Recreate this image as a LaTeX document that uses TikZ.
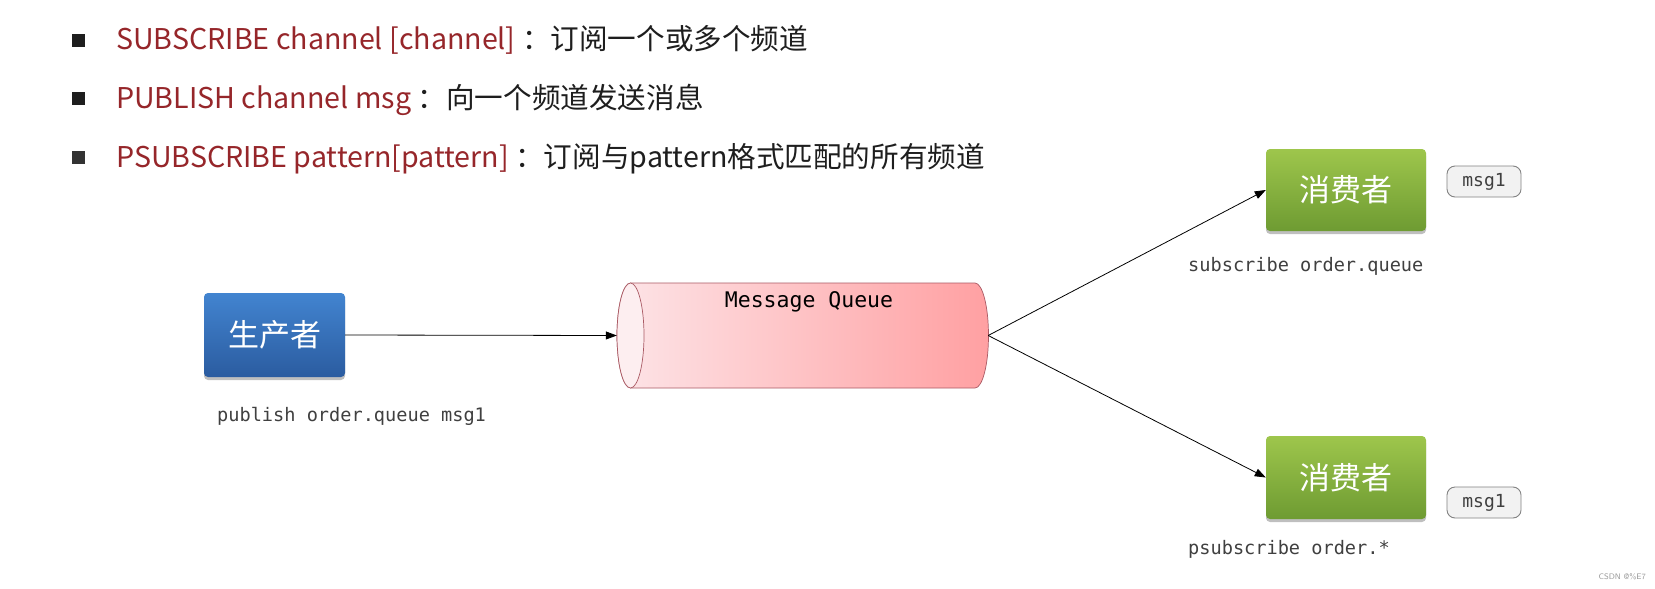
\documentclass[tikz,border=0pt]{standalone}
\usepackage{fontspec}
\newfontfamily\cjk{Noto Sans CJK SC}
\newfontfamily\mono{DejaVu Sans Mono}
\usetikzlibrary{shadows,arrows.meta}
\definecolor{cmdred}{RGB}{150,38,42}
\definecolor{txtdark}{RGB}{30,30,30}
\definecolor{bluetop}{RGB}{66,132,208}
\definecolor{bluebot}{RGB}{43,92,160}
\definecolor{greentop}{RGB}{158,198,76}
\definecolor{greenbot}{RGB}{110,155,50}
\definecolor{pinkL}{RGB}{253,228,231}
\definecolor{pinkR}{RGB}{255,160,162}
\definecolor{pinkface}{RGB}{253,238,240}
\definecolor{cylborder}{RGB}{170,90,100}
\definecolor{labelgrey}{RGB}{64,64,64}
\definecolor{tagfill}{RGB}{242,242,242}
\definecolor{tagdraw}{RGB}{130,130,130}
\tikzset{
  x=1pt, y=1pt,
  bulletbox/.style={fill=txtdark, minimum width=13pt, minimum height=13pt, inner sep=0pt},
  cmdtext/.style={text=cmdred, font=\cjk\fontsize{28.6}{34}\selectfont, inner sep=0pt, anchor=base west},
  desctext/.style={text=txtdark, font=\cjk\fontsize{28.6}{34}\selectfont, inner sep=0pt, anchor=base west, xshift=6pt},
  actorbox/.style={rounded corners=4pt, text=white, font=\cjk\fontsize{31}{31}\selectfont,
     drop shadow={shadow xshift=0pt, shadow yshift=-3pt, opacity=0.25, fill=black}},
  prodbox/.style={actorbox, top color=bluetop, bottom color=bluebot, minimum width=141pt, minimum height=84pt},
  consbox/.style={actorbox, top color=greentop, bottom color=greenbot, minimum width=160pt, minimum height=82pt},
  tagbox/.style={rounded corners=8pt, fill=tagfill, draw=tagdraw, line width=0.9pt,
     minimum width=74pt, minimum height=31pt, inner sep=0pt, text=labelgrey, font=\mono\fontsize{18}{18}\selectfont},
  monolabel/.style={text=labelgrey, font=\mono\fontsize{18.6}{20}\selectfont, inner sep=0pt, anchor=west},
  flow/.style={line width=0.8pt, -{Triangle[length=11pt,width=8pt]}},
}
\begin{document}
\begin{tikzpicture}
\useasboundingbox (0,0) rectangle (1655,-589);
\fill[white] (0,0) rectangle (1655,-589);

% header bullets
\node[bulletbox] (b1) at (78,-40) {};
\node[bulletbox] (b2) at (78,-98) {};
\node[bulletbox, fill=black!80] (b3) at (78,-157) {};

\node[cmdtext] (h1r) at (116,-49.5) {SUBSCRIBE channel [channel]};
\node[desctext] (h1b) at (h1r.base east) {：订阅一个或多个频道};
\node[cmdtext] (h2r) at (116,-108) {PUBLISH channel msg};
\node[desctext] (h2b) at (h2r.base east) {：向一个频道发送消息};
\node[cmdtext] (h3r) at (116,-167) {PSUBSCRIBE pattern[pattern]};
\node[desctext] (h3b) at (h3r.base east) {：订阅与pattern格式匹配的所有频道};

% producer
\node[prodbox] (prod) at (274.5,-335) {生产者};
\node[monolabel] (prodlbl) at (217,-416) {publish order.queue msg1};

% message queue cylinder
\node[minimum width=371pt, minimum height=105pt, inner sep=0pt] (mq) at (802.5,-335.5) {};
\shade[left color=pinkL, right color=pinkR, draw=cylborder, line width=0.7pt]
  (630.5,-283) -- (975,-283)
  arc[start angle=90, end angle=-90, x radius=13.5, y radius=52.5]
  -- (630.5,-388)
  arc[start angle=270, end angle=90, x radius=13.5, y radius=52.5] -- cycle;
\filldraw[fill=pinkface, draw=cylborder, line width=0.7pt]
  (630.5,-335.5) ellipse[x radius=13.5, y radius=52.5];
\node[font=\mono\fontsize{21.5}{22}\selectfont, text=black, inner sep=0pt] (mqlbl) at (809,-302) {Message Queue};

% consumers
\node[consbox] (c1) at (1346,-190) {消费者};
\node[consbox, minimum height=83pt] (c2) at (1346,-477.5) {消费者};
\node[tagbox] (t1) at (1484,-181.5) {msg1};
\node[tagbox] (t2) at (1484,-502.5) {msg1};
\node[monolabel] (c1lbl) at (1188,-266) {subscribe order.queue};
\node[monolabel] (c2lbl) at (1188,-549) {psubscribe order.*};

% connectors
\draw[flow] (prod.east) -- (mq.west);
\draw[flow] (mq.east) -- (c1.west);
\draw[flow] (mq.east) -- (c2.west);

% watermark
\node[anchor=east, text=black!40, font=\fontsize{8}{8}\selectfont\sffamily, inner sep=0pt] (wm) at (1646,-577) {CSDN @\%E7};
\end{tikzpicture}
\end{document}
